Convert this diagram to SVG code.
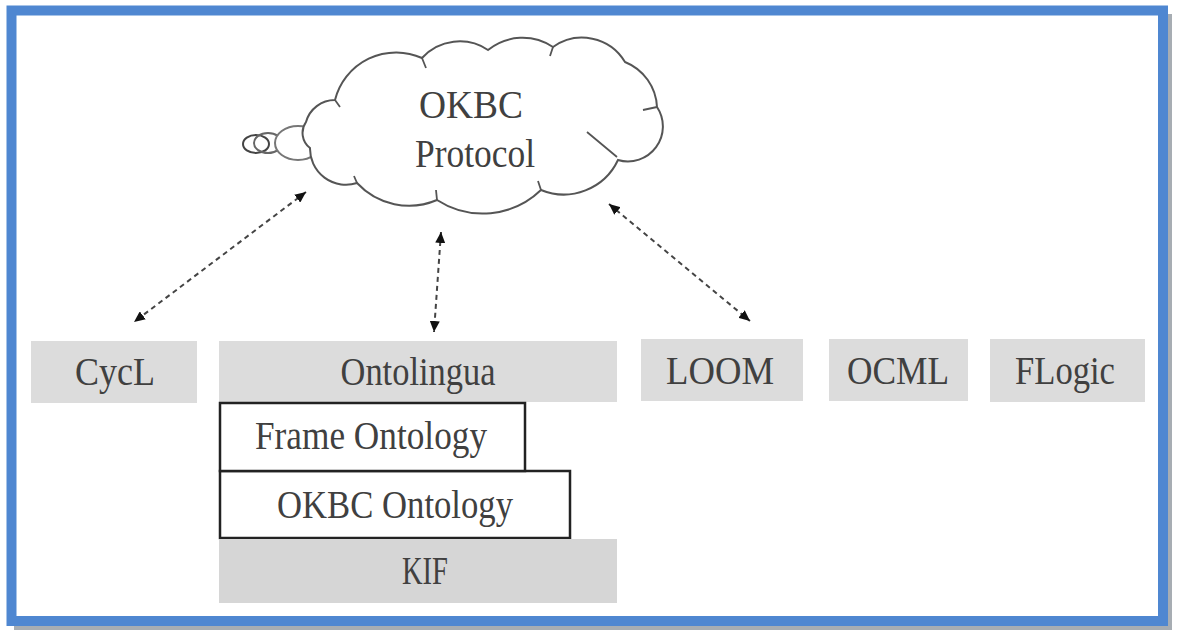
<svg xmlns="http://www.w3.org/2000/svg" width="1181" height="630" viewBox="0 0 1181 630">
<defs>
<style>
.box{fill:#dcdcdc;}
.layer{fill:#ffffff;stroke:#222;stroke-width:2.5;}
.lbl{font-size:39px;fill:#404040;text-anchor:middle;}
.conn{stroke:#444;stroke-width:2;stroke-dasharray:5 4;fill:none;marker-start:url(#ah);marker-end:url(#ah);}
.cloud{fill:#ffffff;stroke:#555;stroke-width:2;}
</style>
<marker id="ah" markerUnits="userSpaceOnUse" markerWidth="12" markerHeight="10" refX="11" refY="5" orient="auto-start-reverse">
<path d="M0,0 L11,5 L0,10 z" fill="#111"/>
</marker>
</defs>
<rect x="0" y="0" width="1181" height="630" fill="#ffffff"/>
<g id="frame">
<rect x="1166" y="14" width="6" height="616" fill="#a7adb3"/>
<rect x="14" y="625" width="1158" height="5" fill="#a7adb3"/>
<rect x="11.5" y="10.5" width="1151.5" height="610.5" fill="none" stroke="#4f87d1" stroke-width="10"/>
</g>
<g id="cloud">
<ellipse cx="256" cy="144" rx="13" ry="9" fill="none" stroke="#444" stroke-width="2"/>
<ellipse cx="268" cy="143" rx="14" ry="10" fill="none" stroke="#666" stroke-width="2"/>
<ellipse cx="298" cy="143" rx="23" ry="17" fill="#fff" stroke="#777" stroke-width="2"/>
<line x1="323" y1="143" x2="342" y2="146" stroke="#aaa" stroke-width="2"/>
<path class="cloud" d="M306,122 A30,30 0 0 1 335,100 A63,63 0 0 1 422,58 A51,51 0 0 1 488,50 A55,55 0 0 1 553,47 A50,50 0 0 1 625,62 A51,51 0 0 1 657,107 A35,35 0 0 1 618,160 A60,60 0 0 1 541,190 A84,84 0 0 1 437,200 A71,71 0 0 1 357,183 A36,36 0 0 1 310,148 A19,19 0 0 1 306,122 Z"/>
<path d="M587,132 L617,157 M643,110 L657,107 M422,58 L426,68 M553,47 L550,56 M541,190 L538,181 M437,200 L436,190 M357,183 L354,176 M335,100 L340,107" stroke="#555" stroke-width="1.8" fill="none"/>
<text class="lbl" x="471" y="118" font-family="Liberation Serif, serif" textLength="104" lengthAdjust="spacingAndGlyphs">OKBC</text>
<text class="lbl" x="475" y="167" font-family="Liberation Serif, serif" textLength="120" lengthAdjust="spacingAndGlyphs">Protocol</text>
</g>
<g id="connectors">
<line class="conn" x1="306" y1="192" x2="134" y2="322"/>
<line class="conn" x1="441" y1="232" x2="434" y2="332"/>
<line class="conn" x1="609" y1="204" x2="750" y2="321"/>
</g>
<g id="cycl">
<rect class="box" x="31" y="341" width="166" height="62"/>
<text class="lbl" x="115" y="385" font-family="Liberation Serif, serif" textLength="80" lengthAdjust="spacingAndGlyphs">CycL</text>
</g>
<g id="ontolingua">
<rect class="box" x="219" y="341" width="398" height="61"/>
<text class="lbl" x="418" y="385" font-family="Liberation Serif, serif" textLength="155" lengthAdjust="spacingAndGlyphs">Ontolingua</text>
</g>
<g id="okbc-ontology">
<rect class="layer" x="220" y="471" width="350" height="67"/>
<text class="lbl" x="395" y="518" font-family="Liberation Serif, serif" textLength="236" lengthAdjust="spacingAndGlyphs">OKBC Ontology</text>
</g>
<g id="frame-ontology">
<rect class="layer" x="220" y="403" width="305" height="68"/>
<text class="lbl" x="371" y="449" font-family="Liberation Serif, serif" textLength="232" lengthAdjust="spacingAndGlyphs">Frame Ontology</text>
</g>
<g id="kif">
<rect class="box" x="219" y="539" width="398" height="64" style="fill:#d6d6d6"/>
<text class="lbl" x="425" y="584" font-family="Liberation Serif, serif" textLength="46" lengthAdjust="spacingAndGlyphs">KIF</text>
</g>
<g id="loom">
<rect class="box" x="641" y="339" width="162" height="62"/>
<text class="lbl" x="720" y="384" font-family="Liberation Serif, serif" textLength="108" lengthAdjust="spacingAndGlyphs">LOOM</text>
</g>
<g id="ocml">
<rect class="box" x="829" y="339" width="139" height="62"/>
<text class="lbl" x="898" y="384" font-family="Liberation Serif, serif" textLength="102" lengthAdjust="spacingAndGlyphs">OCML</text>
</g>
<g id="flogic">
<rect class="box" x="990" y="339" width="155" height="63"/>
<text class="lbl" x="1065" y="384" font-family="Liberation Serif, serif" textLength="100" lengthAdjust="spacingAndGlyphs">FLogic</text>
</g>
</svg>
